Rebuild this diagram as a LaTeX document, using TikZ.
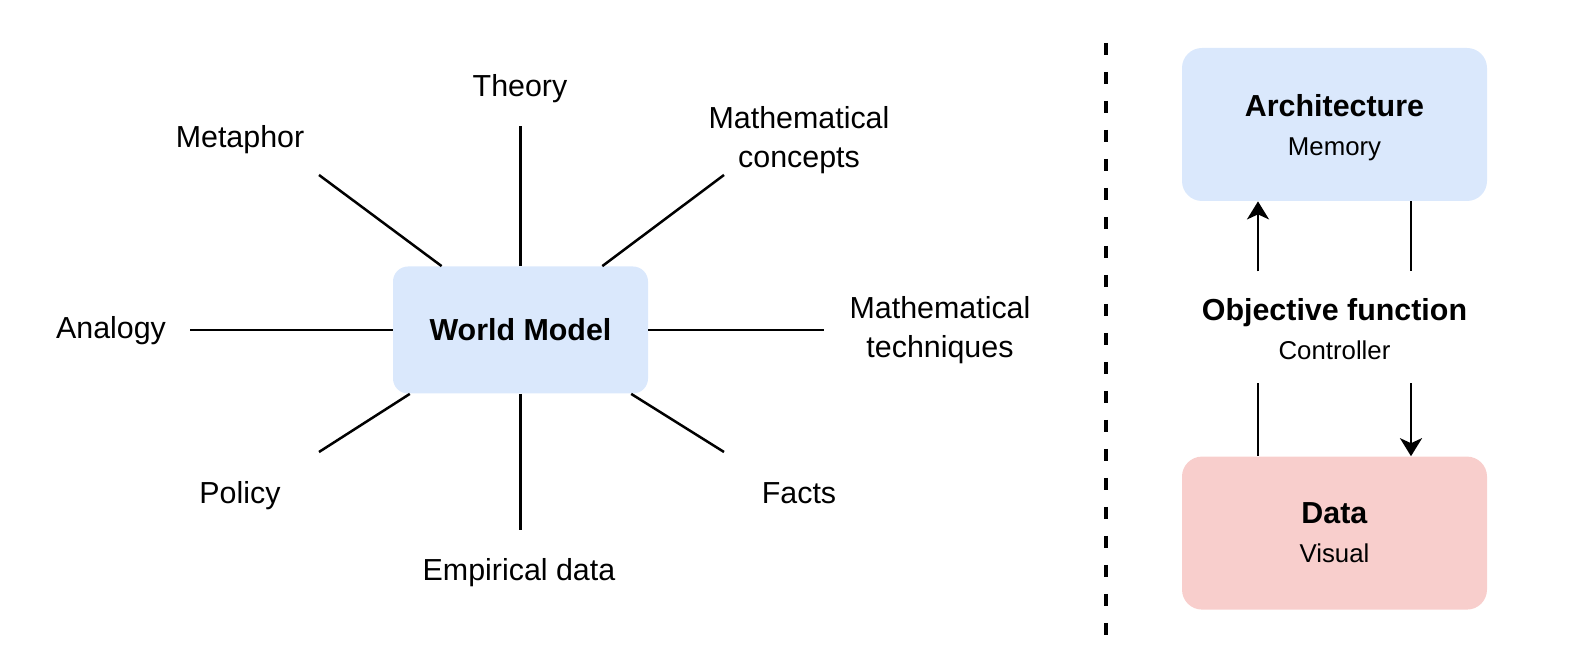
\documentclass[tikz,border=0pt]{standalone}
\usepackage{fontspec}
\setmainfont{Liberation Sans}
\usetikzlibrary{positioning,arrows.meta}
\definecolor{modelblue}{HTML}{DAE8FC}
\definecolor{datared}{HTML}{F8CECC}
\newcommand{\subfont}{\fontsize{12.9}{16}\selectfont}
\begin{document}
\begin{tikzpicture}[
  x=0.5pt, y=-0.5pt,
  every node/.style={font=\fontsize{15.2}{19.5}\selectfont},
  hub/.style={fill=modelblue, rounded corners=7.5pt, minimum width=127.5pt, minimum height=63.5pt, font=\fontsize{15.2}{18}\selectfont\bfseries},
  box/.style={rounded corners=10pt, align=center, minimum width=152.5pt, minimum height=76.5pt},
  term/.style={align=center},
  spoke/.style={line width=1.25pt},
  arrow/.style={-{Stealth[length=9pt,width=11pt,inset=2.5pt]}, line width=1.25pt}
]
\useasboundingbox (0,0) rectangle (1586,672);

% world model and its sources
\node[hub] (wm) at (520.5,330) {World Model};
\node[term] (theory) at (520,89) {Theory};
\node[term] (metaphor) at (240,140) {Metaphor};
\node[term] (concepts) at (799,140) {Mathematical\\concepts};
\node[term] (analogy) at (111,331) {Analogy};
\node[term] (techniques) at (940,330) {Mathematical\\techniques};
\node[term] (policy) at (240,496) {Policy};
\node[term] (empirical) at (519,573) {Empirical data};
\node[term] (facts) at (799,493) {Facts};

\coordinate (theory end) at (520.5,126);
\coordinate (metaphor end) at (319,175);
\coordinate (concepts end) at (724,175);
\coordinate (analogy end) at (190,330);
\coordinate (techniques end) at (824,330);
\coordinate (policy end) at (319,452);
\coordinate (empirical end) at (520.5,530);
\coordinate (facts end) at (724,452);

\draw[spoke] (wm.north) -- (theory end);
\draw[spoke] (wm.141) -- (metaphor end);
\draw[spoke] (wm.38) -- (concepts end);
\draw[spoke] (wm.west) -- (analogy end);
\draw[spoke] (wm.east) -- (techniques end);
\draw[spoke] (wm.210) -- (policy end);
\draw[spoke] (wm.south) -- (empirical end);
\draw[spoke] (wm.330) -- (facts end);

% separator
\draw[line width=2pt, dash pattern=on 6pt off 8.5pt] (1106,43) -- (1106,636);

% training loop
\node[box, fill=modelblue] (arch) at (1334.5,124.5) {\rule{0pt}{14pt}\textbf{Architecture}\\[0pt]{\subfont Memory}};
\node[term, minimum height=55.5pt, below=35pt of arch] (obj) {\rule{0pt}{13pt}\textbf{Objective function}\\[0pt]{\subfont Controller}};
\node[box, fill=datared, below=36.5pt of obj] (data) {\textbf{Data}\\[0pt]{\subfont Visual}};

\draw[arrow] ([xshift=-38.25pt]obj.north) -- ([xshift=-38.25pt]arch.south);
\draw[spoke] ([xshift=38.25pt]arch.south) -- ([xshift=38.25pt]obj.north);
\draw[spoke] ([xshift=-38.25pt]obj.south) -- ([xshift=-38.25pt]data.north);
\draw[arrow] ([xshift=38.25pt]obj.south) -- ([xshift=38.25pt]data.north);
\end{tikzpicture}
\end{document}
